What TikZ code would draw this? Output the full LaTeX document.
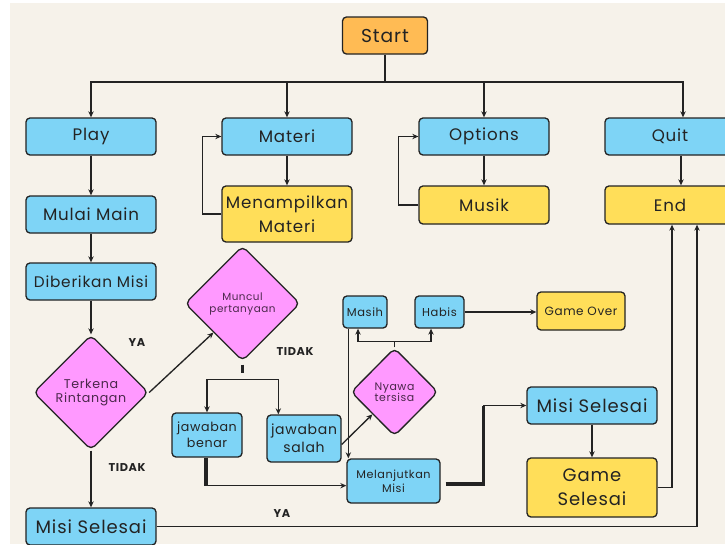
\documentclass[tikz,border=0pt]{standalone}
\usepackage{fontspec}
\setmainfont{Poppins}[LetterSpace=5]
\usetikzlibrary{shapes.geometric,arrows.meta,calc}
\definecolor{bg}{RGB}{246,242,234}
\definecolor{cblue}{RGB}{126,212,246}
\definecolor{cyellow}{RGB}{255,222,89}
\definecolor{corange}{RGB}{255,187,84}
\definecolor{cpink}{RGB}{255,153,255}
\definecolor{cline}{RGB}{35,35,35}
\definecolor{cpurple}{RGB}{75,40,75}
\newcommand\fs[2]{\fontsize{#1}{#2}\selectfont}
\tikzset{
  flowbox/.style={draw=cline, line width=1pt, rounded corners=3pt, align=center, inner sep=0pt, text=cline},
  bluebox/.style={flowbox, fill=cblue},
  yellowbox/.style={flowbox, fill=cyellow},
  mainbox/.style={minimum width=97.5pt, minimum height=27.75pt, font=\fs{12.5}{18}},
  decision/.style={diamond, draw=cline, line width=1pt, rounded corners=4pt, fill=cpink, aspect=1, inner sep=0pt, align=center, text=cpurple},
  conn/.style={line width=1pt, draw=cline},
  arr/.style={conn, -{Stealth[length=4.5pt,width=4pt]}},
  heavy/.style={line width=2.4pt, draw=cline},
  yesno/.style={font=\bfseries\fs{8.5}{10}, text=cline}
}
\begin{document}
\begin{tikzpicture}[x=0.75pt, y=-0.75pt]

\fill[white] (0,0) rectangle (725,544);
\fill[bg] (10,3) rectangle (725,544);
\useasboundingbox (0,0) rectangle (725,544);

\node[flowbox, fill=corange, minimum width=63.75pt, minimum height=27.75pt, font=\fs{14}{18}] (start) at (385,35.5) {Start};
\node[bluebox, mainbox] (play) at (91,136.5) {Play};
\node[bluebox, mainbox] (materi) at (287,136.5) {Materi};
\node[bluebox, mainbox] (options) at (484,136.5) {Options};
\node[bluebox, mainbox] (quit) at (670,136.5) {Quit};
\node[yellowbox, mainbox, minimum height=42pt] (tampil) at (287,214) {Menampilkan\\Materi};
\node[yellowbox, mainbox, minimum height=28.5pt] (musik) at (484,205) {Musik};
\node[yellowbox, mainbox, minimum height=28.5pt] (end) at (670,205) {End};
\node[bluebox, mainbox] (mulai) at (91,214.5) {Mulai Main};
\node[bluebox, mainbox, font=\fs{11.5}{14}] (misi) at (91,281.5) {Diberikan Misi};
\node[decision, minimum width=86.25pt, minimum height=86.25pt, font=\fs{9.5}{10.5}] (rintangan) at (91,392.5) {Terkena\\Rintangan};
\node[bluebox, mainbox, font=\fs{13.5}{18}] (selesaiA) at (91,526.5) {Misi Selesai};
\node[decision, minimum width=86.25pt, minimum height=86.25pt, font=\fs{7.8}{9}] (soal) at (242.5,303.5) {Muncul\\pertanyaan};
\node[bluebox, minimum width=52.5pt, minimum height=33pt, font=\fs{9.5}{12}] (benar) at (207,435) {jawaban\\benar};
\node[bluebox, minimum width=55.5pt, minimum height=35.25pt, font=\fs{10.5}{13.5}] (salah) at (304,438.5) {jawaban\\salah};
\node[decision, minimum width=65.25pt, minimum height=66pt, font=\fs{8.2}{8.5}] (nyawa) at (394.5,392) {Nyawa\\tersisa};
\node[bluebox, minimum width=33pt, minimum height=24pt, font=\fs{8.6}{10}] (masih) at (365,312) {Masih};
\node[bluebox, minimum width=36.75pt, minimum height=24pt, font=\fs{8.6}{10}] (habis) at (439.5,312) {Habis};
\node[yellowbox, minimum width=66pt, minimum height=28.5pt, font=\fs{9}{10}] (over) at (581,311) {Game Over};
\node[bluebox, minimum width=69.75pt, minimum height=33pt, font=\fs{8.4}{10.5}] (lanjut) at (393.5,481) {Melanjutkan\\Misi};
\node[bluebox, mainbox, font=\fs{13.5}{18}] (selesaiB) at (592,405.5) {Misi Selesai};
\node[yellowbox, mainbox, minimum height=44.25pt, font=\fs{13.5}{18}] (game) at (592,487.5) {Game\\Selesai};

\coordinate (fork) at (385,82);
\draw[conn] (start) -- (fork);
\foreach \n in {play,materi,options}
  \draw[arr] (fork) -| (\n);
\draw[arr] (fork) -| ($(quit.north)+(13,0)$);

\draw[arr] (materi) -- (tampil);
\draw[arr] (tampil.west) -- ++(-19,0) |- (materi.west);
\draw[arr] (options) -- (musik);
\draw[arr] (musik.west) -- ++(-20,0) |- (options.west);
\draw[arr] ($(quit.south)+(11,0)$) -- ($(end.north)+(11,0)$);

\draw[arr] (play) -- (mulai);
\draw[arr] (mulai) -- (misi);
\draw[arr] (misi) -- (rintangan);
\draw[arr] (rintangan) -- (selesaiA);
\draw[arr] (rintangan.east) -- (soal.south west);

\draw[heavy] ($(soal.south)+(0,3)$) -- ++(0,8);
\coordinate (split) at ($(soal.south)+(0,18)$);
\draw[arr] (split) -| (benar);
\draw[arr] (split) -| ($(salah.north west)+(12,0)$);
\draw[heavy] ($(benar.south)+(-1,0)$) -- ++(0,28) coordinate (turn);
\draw[arr] (turn) -- (turn -| lanjut.west);

\draw[arr] ($(salah.east)+(0,6)$) -- (nyawa.south west);
\draw[conn] (nyawa.north) -- ++(0,-6) coordinate (top);
\draw[arr] (top) -| ($(masih.south)+(-7,0)$);
\draw[arr] (top) -| ($(habis.south)+(-8.5,0)$);
\draw[arr] (habis.east) -- (habis.east -| over.west);
\coordinate (down) at ($(masih.south west)+(6,0)$);
\draw[arr] (down) -- (down |- lanjut.north);

\draw[heavy] ($(lanjut.east)+(5,3)$) -| ($(selesaiB.west)+(-43,0)$) coordinate (rise);
\draw[arr] (rise) -- (selesaiB.west);
\draw[arr] (selesaiB) -- (game);
\draw[arr] (game.east) -| ($(end.south)+(2,0)$);
\draw[arr] (selesaiA.east) -| ($(end.south)+(27,0)$);

\node[yesno] (ya1) at (137,343) {YA};
\node[yesno] (tidak1) at (295,352) {TIDAK};
\node[yesno] (tidak2) at (127,468) {TIDAK};
\node[yesno] (ya2) at (282,514) {YA};

\end{tikzpicture}
\end{document}
